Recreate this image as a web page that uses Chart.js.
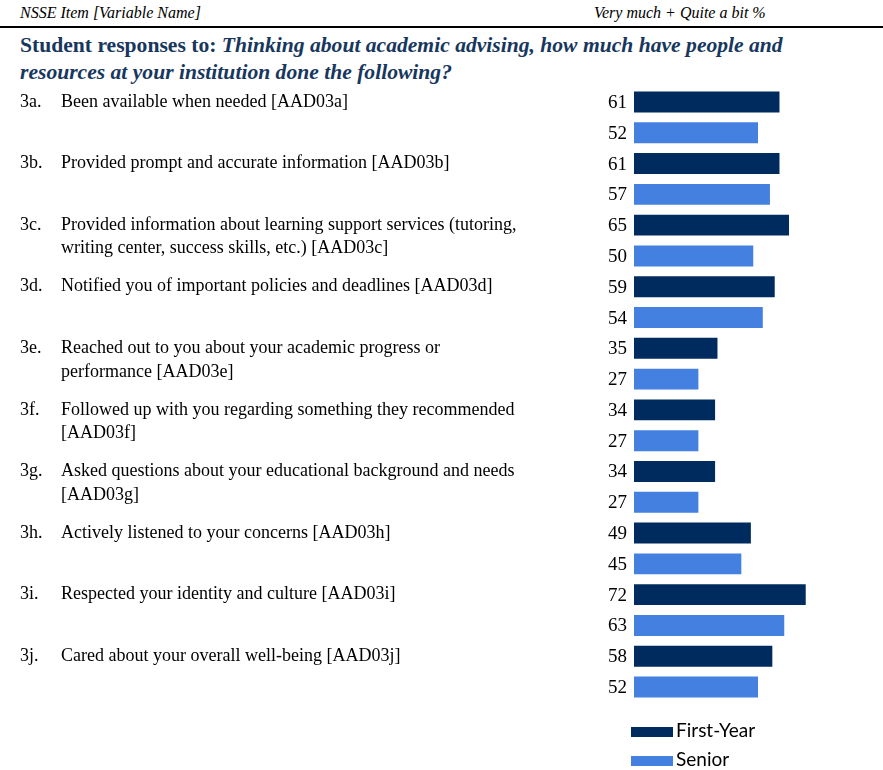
<!DOCTYPE html>
<html lang="en">
<head>
  <meta charset="UTF-8">
  <title>NSSE Academic Advising</title>
  <script src="https://cdn.jsdelivr.net/npm/chart.js"></script>
  <style>
    body { margin: 0; width: 883px; height: 770px; position: relative; background: #fff; overflow: hidden; }
    .hdr { position: absolute; top: 4px; font: italic 16px "Liberation Serif", serif; color: #000; }
    .rule { position: absolute; left: 0; top: 26px; width: 883px; height: 2px; background: #000; }
    .title { position: absolute; left: 20px; top: 32px; white-space: nowrap; font: bold 21.6px/27px "Liberation Serif", serif; color: #17375e; }
    .title i { font-style: italic; }
    #wrap { position: absolute; left: 0; top: 0; width: 883px; height: 770px; }
    .leg { position: absolute; left: 631px; font: 19px "Lato", "Noto Sans", sans-serif; color: #000; }
    .leg span { display: inline-block; width: 42px; height: 10px; margin-right: 3px; vertical-align: middle; }
  </style>
</head>
<body>
  <div class="hdr" style="left:20px">NSSE Item [Variable Name]</div>
  <div class="hdr" style="left:594px">Very much + Quite a bit %</div>
  <div class="rule"></div>
  <div class="title">Student responses to: <i>Thinking about academic advising, how much have people and<br>resources at your institution done the following?</i></div>
  <div id="wrap"><canvas id="chart" width="883" height="770"></canvas></div>
  <div id="legend"></div>

  <script>
    // item codes and question text (split where the reference wraps)
    const codes = ['3a.', '3b.', '3c.', '3d.', '3e.', '3f.', '3g.', '3h.', '3i.', '3j.'];
    const items = [
      ['Been available when needed [AAD03a]'],
      ['Provided prompt and accurate information [AAD03b]'],
      ['Provided information about learning support services (tutoring,', 'writing center, success skills, etc.) [AAD03c]'],
      ['Notified you of important policies and deadlines [AAD03d]'],
      ['Reached out to you about your academic progress or', 'performance [AAD03e]'],
      ['Followed up with you regarding something they recommended', '[AAD03f]'],
      ['Asked questions about your educational background and needs', '[AAD03g]'],
      ['Actively listened to your concerns [AAD03h]'],
      ['Respected your identity and culture [AAD03i]'],
      ['Cared about your overall well-being [AAD03j]']
    ];
    // Very much + Quite a bit %
    const firstYear = [61, 61, 65, 59, 35, 34, 34, 49, 72, 58];
    const senior = [52, 57, 50, 54, 27, 27, 27, 45, 63, 52];

    const darkBlue = '#002b5e';
    const lightBlue = '#4380e0';

    // draws the percent next to each bar and the item text on the left
    const labelPlugin = {
      id: 'labels',
      afterDatasetsDraw(chart) {
        const ctx = chart.ctx;
        ctx.save();
        ctx.fillStyle = '#000';
        ctx.textBaseline = 'middle';
        ctx.textAlign = 'right';
        ctx.font = '19px "Liberation Serif", serif';
        chart.data.datasets.forEach((ds, di) => {
          chart.getDatasetMeta(di).data.forEach((bar, i) => {
            ctx.fillText(ds.data[i], bar.base - 7, bar.y + 1);
          });
        });
        ctx.textAlign = 'left';
        ctx.font = '18px "Liberation Serif", serif';
        const fy = chart.getDatasetMeta(0).data;
        codes.forEach((c, i) => {
          ctx.fillText(c, 20, fy[i].y);
          items[i].forEach((line, k) => {
            ctx.fillText(line, 61, fy[i].y + k * 23.5);
          });
        });
        ctx.restore();
      }
    };

    const chart = new Chart(document.getElementById('chart'), {
      type: 'bar',
      data: {
        labels: codes,
        datasets: [
          { label: 'First-Year', data: firstYear, backgroundColor: darkBlue },
          { label: 'Senior', data: senior, backgroundColor: lightBlue }
        ]
      },
      options: {
        indexAxis: 'y',
        responsive: false,
        animation: false,
        layout: { padding: { left: 634, right: 10.5, top: 86.6, bottom: 67.6 } },
        datasets: { bar: { categoryPercentage: 1, barPercentage: 0.68 } },
        scales: {
          x: { display: false, min: 0, max: 100 },
          y: { display: false }
        },
        plugins: { legend: { display: false }, tooltip: { enabled: false } }
      },
      plugins: [labelPlugin]
    });

    // legend stacked below the bars
    const legend = document.getElementById('legend');
    chart.data.datasets.forEach((ds, i) => {
      const d = document.createElement('div');
      d.className = 'leg';
      d.style.top = (718 + i * 29) + 'px';
      d.innerHTML = '<span style="background:' + ds.backgroundColor + '"></span>' + ds.label;
      legend.appendChild(d);
    });
  </script>
</body>
</html>
